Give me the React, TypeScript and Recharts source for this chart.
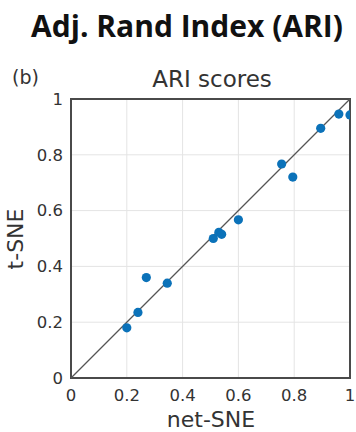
import React from "react";
import {
  ScatterChart,
  Scatter,
  XAxis,
  YAxis,
  CartesianGrid,
  ReferenceLine,
  ReferenceArea,
} from "recharts";

const netSNE = [0.2, 0.24, 0.27, 0.345, 0.51, 0.53, 0.54, 0.6, 0.755, 0.795, 0.895, 0.96, 1.0];
const tSNE = [0.18, 0.235, 0.36, 0.34, 0.5, 0.522, 0.515, 0.567, 0.767, 0.72, 0.895, 0.946, 0.943];
const ticks = [0, 0.2, 0.4, 0.6, 0.8, 1];
const tickLabels = ["0", "0.2", "0.4", "0.6", "0.8", "1"];

const points = netSNE.map((x, i) => ({ x, y: tSNE[i] }));

const TICK_FONT = "DejaVu Sans";
const fmt = (v: number) => tickLabels[ticks.indexOf(v)] ?? String(v);

const Dot = (p: any) => <circle cx={p.cx} cy={p.cy} r={4.6} fill="#0b72b9" />;

export default function App() {
  return (
    <div style={{ position: "absolute", left: 0, top: 0, width: 356, height: 432, background: "#fff" }}>
      <ScatterChart width={356} height={432} margin={{ top: 99, right: 6, bottom: 0, left: 0 }}>
        <CartesianGrid stroke="#e4e4e4" strokeWidth={1} />
        <XAxis
          type="number"
          dataKey="x"
          domain={[0, 1]}
          ticks={ticks}
          tickFormatter={fmt}
          height={54}
          tickLine={false}
          axisLine={false}
          tickMargin={5}
          tick={{ fontFamily: TICK_FONT, fontSize: 16.5, fill: "#333" }}
          allowDataOverflow
        />
        <YAxis
          type="number"
          dataKey="y"
          domain={[0, 1]}
          ticks={ticks}
          tickFormatter={fmt}
          width={71}
          tickLine={false}
          axisLine={false}
          tickMargin={2}
          tick={{ fontFamily: TICK_FONT, fontSize: 16.5, fill: "#333" }}
          allowDataOverflow
        />
        <ReferenceLine
          segment={[{ x: 0, y: 0 }, { x: 1, y: 1 }]}
          stroke="#555"
          strokeWidth={1.3}
        />
        <Scatter data={points} shape={Dot} isAnimationActive={false} />
        <ReferenceArea x1={0} x2={1} y1={0} y2={1} fill="none" stroke="#4a4a4a" strokeWidth={2} fillOpacity={0} />
      </ScatterChart>
      <svg
        width={356}
        height={432}
        style={{ position: "absolute", left: 0, top: 0, pointerEvents: "none" }}
      >
        <text x={187} y={37} textAnchor="middle" fontFamily="Open Sans" fontWeight={700} fontSize={30} fill="#111">
          Adj. Rand Index (ARI)
        </text>
        <text x={12} y={84} fontFamily={TICK_FONT} fontSize={19} fill="#333">
          (b)
        </text>
        <text x={212} y={87} textAnchor="middle" fontFamily={TICK_FONT} fontSize={23} fill="#333">
          ARI scores
        </text>
        <text
          x={23}
          y={239}
          textAnchor="middle"
          fontFamily={TICK_FONT}
          fontSize={22}
          fill="#333"
          transform="rotate(-90 23 239)"
        >
          t-SNE
        </text>
        <text x={211} y={427} textAnchor="middle" fontFamily={TICK_FONT} fontSize={22} fill="#333">
          net-SNE
        </text>
      </svg>
    </div>
  );
}
